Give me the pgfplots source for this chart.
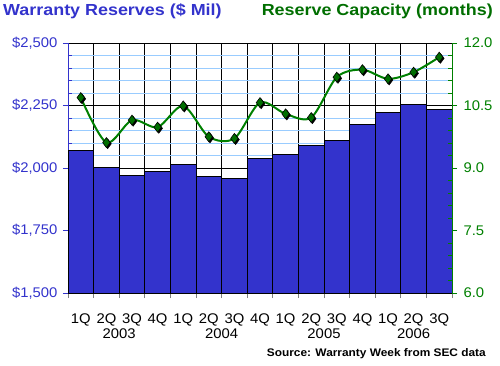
\documentclass[border=0pt]{standalone}
\usepackage{pgfplots}
\pgfplotsset{compat=1.18}
\usepackage{fontspec}
\setmainfont{Liberation Sans}
\newfontfamily\widefont[FakeStretch=1.12]{Liberation Sans}
\newfontfamily\srcfont[FakeStretch=1.08]{Liberation Sans}
\newfontfamily\tickfont[FakeStretch=1.06]{Liberation Sans}
\definecolor{barblue}{RGB}{51,51,204}
\definecolor{dgreen}{RGB}{0,110,0}
\definecolor{lgreen}{RGB}{0,128,0}
\definecolor{gridblue}{RGB}{153,204,255}
\pgfplotstableread{
x res
0 2069
1 2003
2 1971
3 1987
4 2013
5 1967
6 1957
7 2039
8 2055
9 2091
10 2111
11 2175
12 2223
13 2255
14 2235
}\reserves
\pgfplotstableread{
x cap
0 10.69
1 9.61
2 10.15
3 9.98
4 10.49
5 9.75
6 9.71
7 10.57
8 10.30
9 10.21
10 11.18
11 11.36
12 11.14
13 11.30
14 11.66
}\capacity
\begin{document}
\begin{tikzpicture}[x=1pt,y=1pt]
\path[use as bounding box] (0,0) rectangle (500,365);
\begin{axis}[
  at={(68pt,72pt)}, anchor=south west, scale only axis,
  width=384pt, height=250pt,
  xmin=-0.5, xmax=14.5, ymin=1500, ymax=2500,
  axis x line*=bottom, axis y line*=left,
  axis line style={-},
  x axis line style={black, line width=1pt},
  y axis line style={barblue, line width=1pt},
  xtick={-0.5,0.5,...,14.5}, xticklabels={},
  ytick={1500,1750,...,2500}, minor y tick num=4,
  tick align=outside, major tick length=5pt, minor tick length=4pt,
  tick style={line width=1pt},
  y tick style={barblue},
  minor tick style={xshift=4pt},
  xmajorgrids, ymajorgrids, yminorgrids,
  major grid style={black, line width=1pt},
  minor grid style={gridblue, line width=1pt},
  /pgf/number format/assume math mode=true,
  /pgf/number format/1000 sep={,},
  yticklabel={\$\pgfmathprintnumber{\tick}},
  yticklabel style={font=\tickfont\fontsize{14}{16}\selectfont, text=barblue, xshift=-2pt},
]
\addplot[ybar, bar width=1, bar shift=0pt, fill=barblue, draw=black, line width=1pt] table[x=x,y=res] {\reserves};
\end{axis}
\begin{axis}[
  at={(68pt,72pt)}, anchor=south west, scale only axis,
  width=384pt, height=250pt,
  xmin=-0.5, xmax=14.5, ymin=6, ymax=12,
  axis x line*=bottom, axis y line*=right,
  axis line style={-},
  x axis line style={draw=none},
  y axis line style={lgreen, line width=1pt},
  xtick={0,...,14},
  xticklabels={1Q,2Q,3Q,4Q,1Q,2Q,3Q,4Q,1Q,2Q,3Q,4Q,1Q,2Q,3Q},
  x tick style={draw=none},
  extra x ticks={1.5,5.5,9.5,13},
  extra x tick labels={2003,2004,2005,2006},
  extra x tick style={tick label style={yshift=-15pt}},
  xticklabel style={font=\tickfont\fontsize{14}{16}\selectfont, text=black, yshift=-12pt},
  ytick={6,7.5,...,12}, minor y tick num=4,
  tick align=outside, major tick length=5pt, minor tick length=4pt,
  tick style={line width=1pt},
  y tick style={lgreen},
  minor tick style={xshift=-4pt},
  /pgf/number format/assume math mode=true,
  yticklabel style={/pgf/number format/fixed, /pgf/number format/fixed zerofill, /pgf/number format/precision=1, font=\tickfont\fontsize{14}{16}\selectfont, text=lgreen, xshift=3pt},
  clip=false,
]
\addplot[lgreen, line width=2pt, smooth, tension=0.5, no marks] table[x=x,y=cap] {\capacity};
\addplot[only marks, mark=diamond*, mark size=5pt, mark options={fill=black, draw=black, xshift=1.2pt, yshift=-1.2pt}] table[x=x,y=cap] {\capacity};
\addplot[only marks, mark=diamond*, mark size=5pt, mark options={fill=dgreen, draw=black, line width=0.6pt}] table[x=x,y=cap] {\capacity};
\end{axis}
\node[anchor=base west, text=barblue, font=\widefont\fontsize{16}{18}\selectfont\bfseries, inner sep=0pt] at (3,349) {Warranty Reserves (\$ Mil)};
\node[anchor=base east, text=dgreen, font=\widefont\fontsize{16}{18}\selectfont\bfseries, inner sep=0pt] at (493,349) {Reserve Capacity (months)};
\node[anchor=base east, text=black, font=\srcfont\fontsize{11}{13}\selectfont\bfseries, inner sep=0pt] at (486,9) {Source: Warranty Week from SEC data};
\end{tikzpicture}
\end{document}
